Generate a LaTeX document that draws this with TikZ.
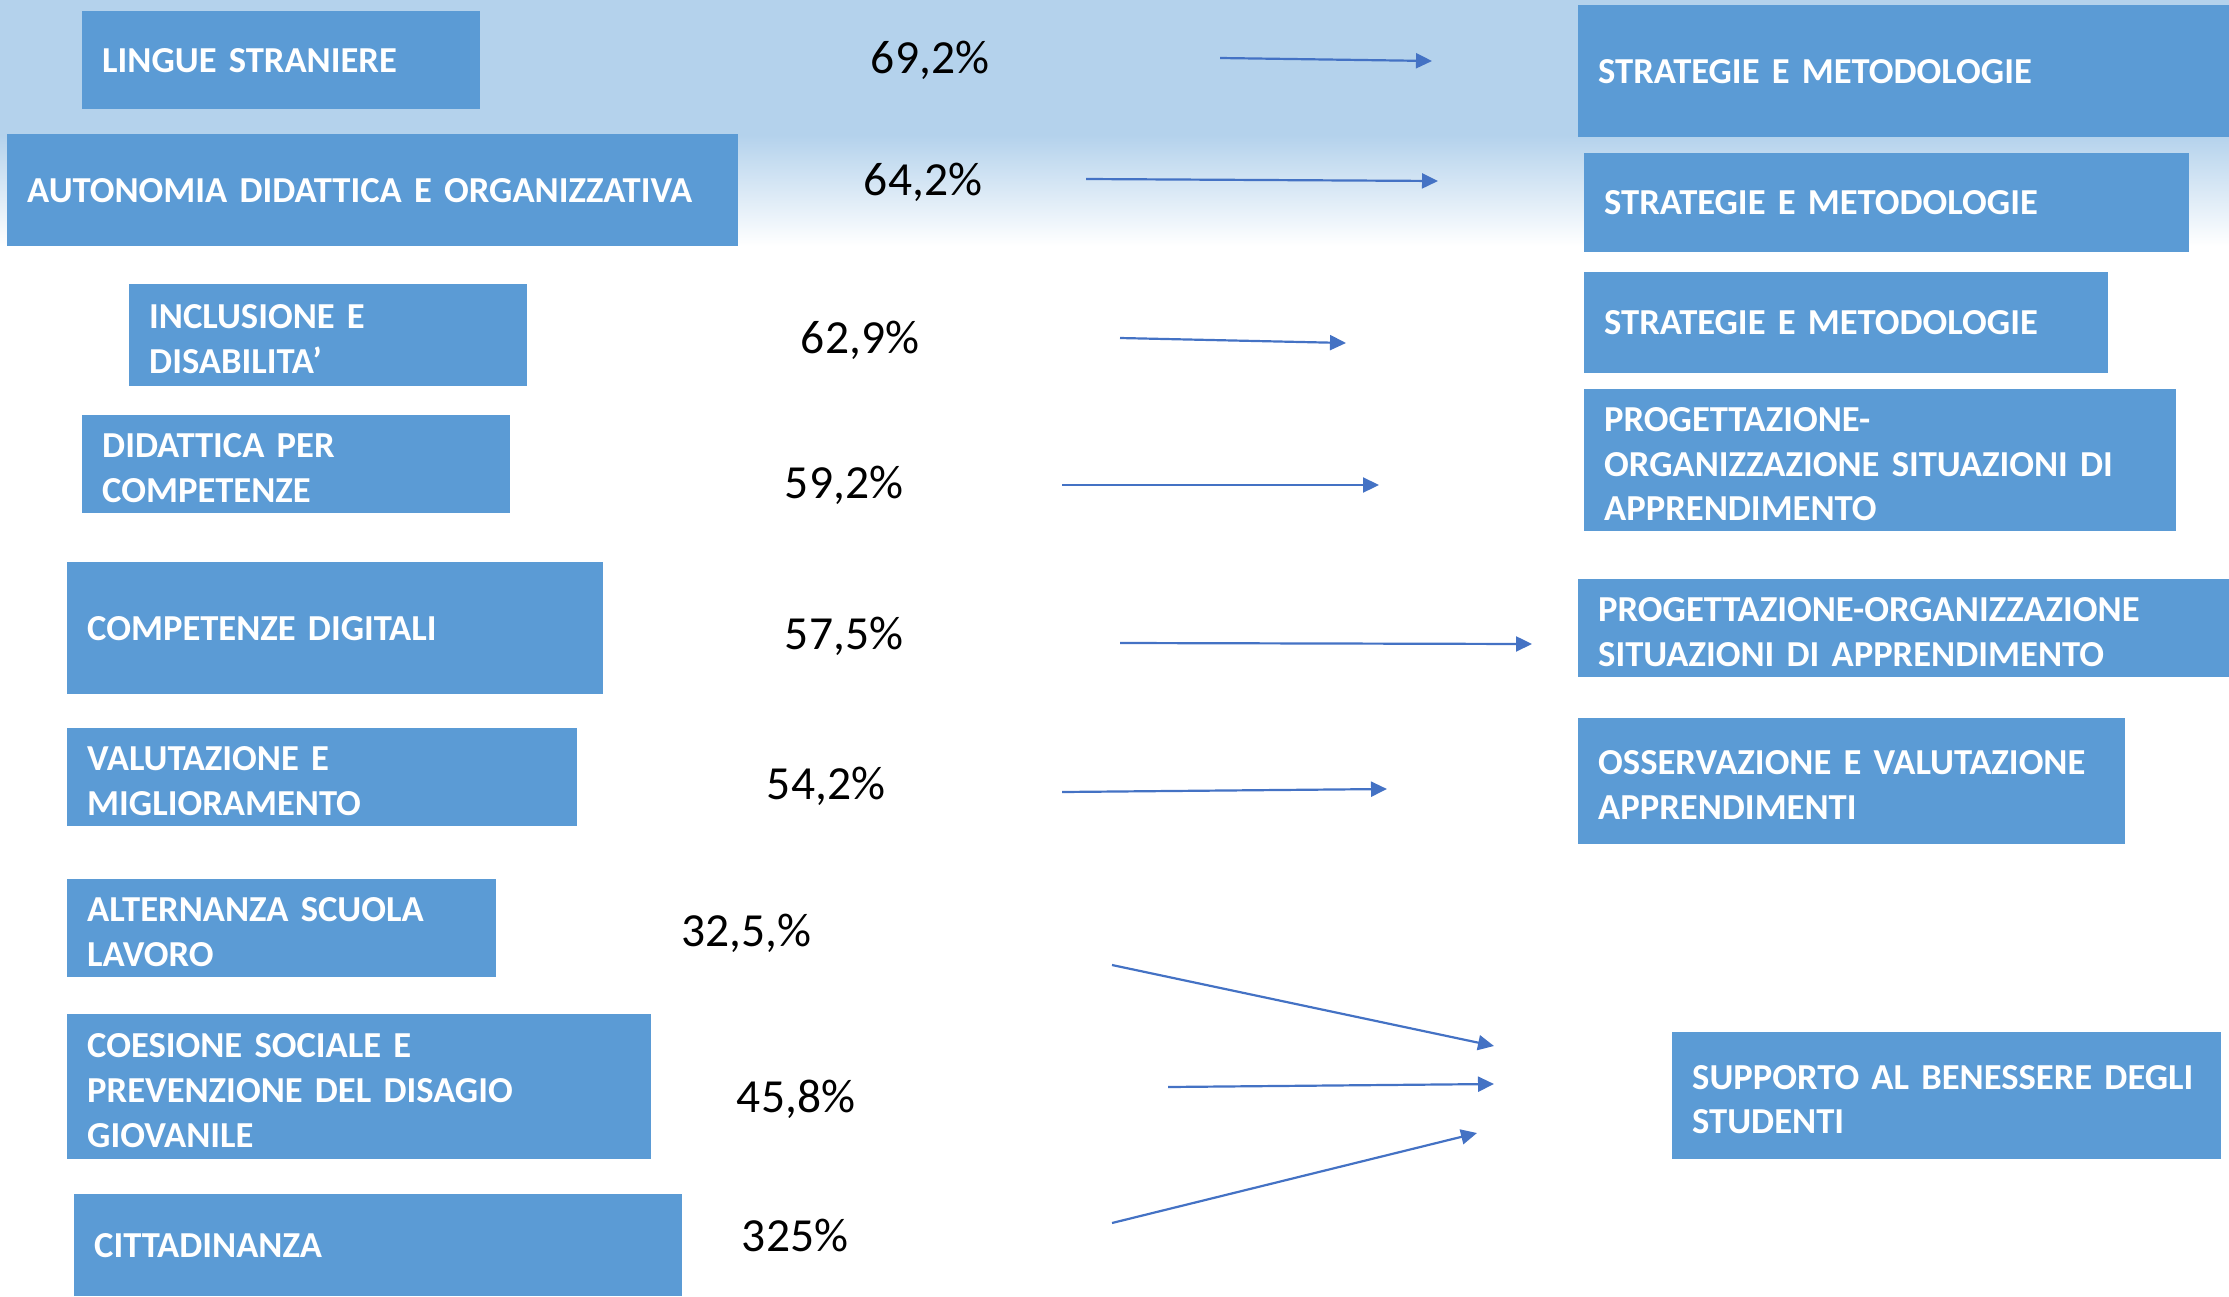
\documentclass[tikz,border=0pt]{standalone}
\usepackage{fontspec}
\setmainfont{Carlito}
\usetikzlibrary{arrows.meta}
\definecolor{boxblue}{HTML}{5B9BD5}
\definecolor{arrowblue}{HTML}{4472C4}
\definecolor{bgblue}{HTML}{B4D2EC}
\begin{document}
\begin{tikzpicture}[x=1pt,y=-1pt,
  box/.style={fill=boxblue, text=white, anchor=north west, inner xsep=20pt, inner ysep=0pt,
    align=left, font=\fontsize{36.6}{44.7}\selectfont\bfseries,
    execute at end node={\endgraf\vspace{-8pt}}},
  pct/.style={font=\fontsize{47.5}{56}\selectfont, text=black},
  arr/.style={draw=arrowblue, line width=2.2pt, -{Triangle[length=16pt,width=15pt]}}]
\useasboundingbox (0,0) rectangle (2229,1296);
% background
\fill[bgblue] (0,0) rectangle (2229,136);
\shade[top color=bgblue, bottom color=white] (0,135) rectangle (2229,246);

% left boxes
\node[box, minimum width=398pt, minimum height=98pt, text width=358pt] (ling) at (82,11) {LINGUE STRANIERE};
\node[box, minimum width=731pt, minimum height=112pt, text width=691pt] (auto) at (7,134) {AUTONOMIA DIDATTICA E ORGANIZZATIVA};
\node[box, minimum width=398pt, minimum height=102pt, text width=358pt] (incl) at (129,284) {INCLUSIONE E\\DISABILITA’};
\node[box, minimum width=428pt, minimum height=98pt, text width=388pt] (didc) at (82,415) {DIDATTICA PER\\COMPETENZE};
\node[box, minimum width=536pt, minimum height=132pt, text width=496pt] (cdig) at (67,562) {COMPETENZE DIGITALI};
\node[box, minimum width=510pt, minimum height=98pt, text width=470pt] (valu) at (67,728) {VALUTAZIONE E\\MIGLIORAMENTO};
\node[box, minimum width=429pt, minimum height=98pt, text width=389pt] (alte) at (67,879) {ALTERNANZA SCUOLA\\LAVORO};
\node[box, minimum width=584pt, minimum height=145pt, text width=544pt] (coes) at (67,1014) {COESIONE SOCIALE E\\PREVENZIONE DEL DISAGIO\\GIOVANILE};
\node[box, minimum width=608pt, minimum height=102pt, text width=568pt] (citt) at (74,1194) {CITTADINANZA};

% right boxes
\node[box, minimum width=651pt, minimum height=132pt, text width=611pt] (str1) at (1578,5) {STRATEGIE E METODOLOGIE};
\node[box, minimum width=605pt, minimum height=99pt, text width=565pt] (str2) at (1584,153) {STRATEGIE E METODOLOGIE};
\node[box, minimum width=524pt, minimum height=101pt, text width=484pt] (str3) at (1584,272) {STRATEGIE E METODOLOGIE};
\node[box, minimum width=592pt, minimum height=142pt, text width=552pt] (prog1) at (1584,389) {PROGETTAZIONE-\\ORGANIZZAZIONE SITUAZIONI DI\\APPRENDIMENTO};
\node[box, minimum width=651pt, minimum height=98pt, text width=611pt] (prog2) at (1578,579) {PROGETTAZIONE-ORGANIZZAZIONE\\SITUAZIONI DI APPRENDIMENTO};
\node[box, minimum width=547pt, minimum height=126pt, text width=507pt] (osse) at (1578,718) {OSSERVAZIONE E VALUTAZIONE\\APPRENDIMENTI};
\node[box, minimum width=549pt, minimum height=127pt, text width=509pt] (supp) at (1672,1032) {SUPPORTO AL BENESSERE DEGLI\\STUDENTI};

% percentages
\node[pct] (p1) at (930,60) {69,2\%};
\node[pct] (p2) at (923,182) {64,2\%};
\node[pct] (p3) at (860,340) {62,9\%};
\node[pct] (p4) at (844,485) {59,2\%};
\node[pct] (p5) at (844,636) {57,5\%};
\node[pct] (p6) at (826,786) {54,2\%};
\node[pct] (p7) at (746,933) {32,5,\%};
\node[pct] (p8) at (796,1099) {45,8\%};
\node[pct] (p9) at (795,1235) {325\%};

% arrow end points
\coordinate (a1s) at (1220,58);  \coordinate (a1e) at (1432,61);
\coordinate (a2s) at (1086,179); \coordinate (a2e) at (1438,181);
\coordinate (a3s) at (1120,338); \coordinate (a3e) at (1346,343);
\coordinate (a4s) at (1062,485); \coordinate (a4e) at (1379,485);
\coordinate (a5s) at (1120,643); \coordinate (a5e) at (1532,644);
\coordinate (a6s) at (1062,792); \coordinate (a6e) at (1387,789);
\coordinate (a7s) at (1112,965); \coordinate (a7e) at (1494,1046);
\coordinate (a8s) at (1168,1087); \coordinate (a8e) at (1494,1084);
\coordinate (a9s) at (1112,1223); \coordinate (a9e) at (1477,1133);

\draw[arr] (a1s) -- (a1e);
\draw[arr] (a2s) -- (a2e);
\draw[arr] (a3s) -- (a3e);
\draw[arr] (a4s) -- (a4e);
\draw[arr] (a5s) -- (a5e);
\draw[arr] (a6s) -- (a6e);
\draw[arr] (a7s) -- (a7e);
\draw[arr] (a8s) -- (a8e);
\draw[arr] (a9s) -- (a9e);
\end{tikzpicture}
\end{document}
